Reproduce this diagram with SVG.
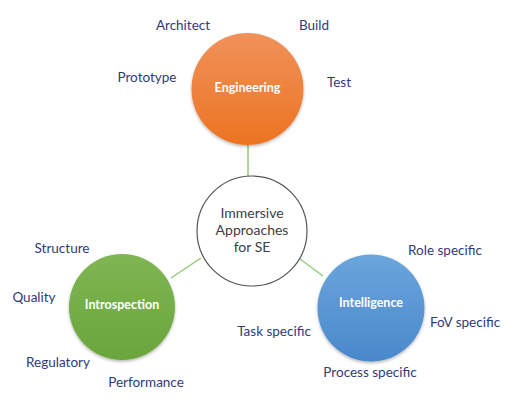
<svg xmlns="http://www.w3.org/2000/svg" width="515" height="416" viewBox="0 0 515 416">
<defs>
<linearGradient id="gOr" x1="0" y1="0" x2="0" y2="1"><stop offset="0" stop-color="#f0915a"/><stop offset="1" stop-color="#ec7422"/></linearGradient>
<linearGradient id="gGr" x1="0" y1="0" x2="0" y2="1"><stop offset="0" stop-color="#7fb653"/><stop offset="1" stop-color="#6aa53c"/></linearGradient>
<linearGradient id="gBl" x1="0" y1="0" x2="0" y2="1"><stop offset="0" stop-color="#6aa5dc"/><stop offset="1" stop-color="#4a88cb"/></linearGradient>
<filter id="sh" x="-20%" y="-20%" width="140%" height="140%"><feDropShadow dx="0" dy="1.5" stdDeviation="1.5" flood-color="#000" flood-opacity="0.3"/></filter>
</defs>
<style>
.lbl{font-family:Lato,"Open Sans",sans-serif;font-size:13.5px;fill:#303b78;text-anchor:middle}
.nt{font-family:Lato,"Open Sans",sans-serif;font-size:12.5px;font-weight:bold;fill:#fff;text-anchor:middle}
.ct{font-family:Lato,"Open Sans",sans-serif;font-size:14px;fill:#404040;text-anchor:middle}
.con{stroke:#93c97a;stroke-width:1.5;fill:none}
</style>
<rect width="515" height="416" fill="#fff"/>
<g id="connectors">
<line class="con" x1="248" y1="145" x2="248" y2="176"/>
<line class="con" x1="201" y1="258" x2="171" y2="278"/>
<line class="con" x1="300" y1="259" x2="323" y2="276"/>
</g>
<g id="center">
<circle cx="252" cy="231" r="55" fill="#fff" stroke="#555" stroke-width="1.2"/>
<text class="ct" x="252" y="218">Immersive</text>
<text class="ct" x="252" y="235">Approaches</text>
<text class="ct" x="252" y="252">for SE</text>
</g>
<g id="engineering">
<circle cx="247.5" cy="89" r="56" fill="url(#gOr)" filter="url(#sh)"/>
<text class="nt" x="247.5" y="92">Engineering</text>
</g>
<g id="introspection">
<circle cx="122" cy="307" r="53" fill="url(#gGr)" filter="url(#sh)"/>
<text class="nt" x="122" y="309">Introspection</text>
</g>
<g id="intelligence">
<circle cx="371" cy="308" r="53.5" fill="url(#gBl)" filter="url(#sh)"/>
<text class="nt" x="371" y="307">Intelligence</text>
</g>
<g id="labels">
<text class="lbl" x="183" y="30">Architect</text>
<text class="lbl" x="314" y="30">Build</text>
<text class="lbl" x="147" y="82">Prototype</text>
<text class="lbl" x="339" y="87">Test</text>
<text class="lbl" x="62" y="253">Structure</text>
<text class="lbl" x="34" y="302">Quality</text>
<text class="lbl" x="58" y="367">Regulatory</text>
<text class="lbl" x="146" y="387">Performance</text>
<text class="lbl" x="445" y="255">Role specific</text>
<text class="lbl" x="465" y="327">FoV specific</text>
<text class="lbl" x="274" y="336">Task specific</text>
<text class="lbl" x="370" y="377">Process specific</text>
</g>
</svg>
